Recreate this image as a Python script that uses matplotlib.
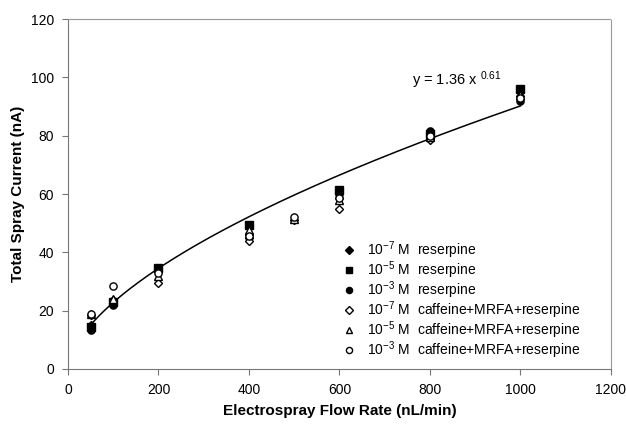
import numpy as np
import matplotlib
matplotlib.use("Agg")
import matplotlib.pyplot as plt

plt.rcParams['font.family'] = ['Liberation Sans', 'DejaVu Sans']
plt.rcParams['mathtext.default'] = 'regular'

# data
x_res = [50, 100, 200, 400, 600, 800, 1000]
res_7 = [15, 22.5, 33.5, 45, 58.5, 79, 95]
res_5 = [14.5, 23, 34.5, 49.5, 61.5, 80.5, 96]
res_3 = [13.5, 22, 33.5, 46, 60, 81.5, 92]

x_mix = [50, 100, 200, 400, 500, 600, 800, 1000]
mix_7 = [18.5, 23.5, 29.5, 44, 51, 55, 78.5, 93.5]
mix_5 = [19, 24, 32, 47.5, 51.5, 58, 79.5, 94]
mix_3 = [19, 28.5, 33, 45.5, 52, 58.5, 80, 93]

# power-law trend line as drawn on the chart (label shows rounded values)
fit_a = 1.46
fit_b = 0.597

fig = plt.figure(figsize=(6.26, 4.25), dpi=100)
ax = fig.add_axes([0.1086, 0.1318, 0.8674, 0.8232])

xf = np.linspace(50, 1000, 200)
ax.plot(xf, fit_a * xf ** fit_b, color="black", linewidth=1.1, zorder=1)

ms = 5.2
ax.plot(x_res, res_7, "D", color="black", ms=ms - 0.8, ls="none", label=r"10$^{-7}$ M  reserpine")
ax.plot(x_res, res_5, "s", color="black", ms=ms, ls="none", label=r"10$^{-5}$ M  reserpine")
ax.plot(x_res, res_3, "o", color="black", ms=ms, ls="none", label=r"10$^{-3}$ M  reserpine")
ax.plot(x_mix, mix_7, "D", mfc="white", mec="black", ms=ms - 0.8, ls="none",
        label=r"10$^{-7}$ M  caffeine+MRFA+reserpine")
ax.plot(x_mix, mix_5, "^", mfc="white", mec="black", ms=ms + 0.5, ls="none",
        label=r"10$^{-5}$ M  caffeine+MRFA+reserpine")
ax.plot(x_mix, mix_3, "o", mfc="white", mec="black", ms=ms, ls="none",
        label=r"10$^{-3}$ M  caffeine+MRFA+reserpine")

ax.text(760, 99, r"y = 1.36 x $^{0.61}$", fontsize=10.5, va="center")

ax.set_xlim(0, 1200)
ax.set_ylim(0, 120)
ax.set_xticks(range(0, 1201, 200))
ax.set_yticks(range(0, 121, 20))
ax.tick_params(direction="out", length=4, color="#777777", labelsize=10, pad=6)

for s in ["left", "bottom"]:
    ax.spines[s].set_color("#777777")
for s in ["top", "right"]:
    ax.spines[s].set_color("#999999")
    ax.spines[s].set_linestyle((0, (2, 1)))

ax.set_xlabel("Electrospray Flow Rate (nL/min)", fontsize=11, fontweight="bold", labelpad=5)
ax.set_ylabel("Total Spray Current (nA)", fontsize=11, fontweight="bold", labelpad=4)

ax.legend(loc="upper left", bbox_to_anchor=(0.49, 0.39), frameon=False, fontsize=10,
          handletextpad=0.7, labelspacing=-0.12, handlelength=1.2, borderpad=0,
          markerscale=0.85)

fig.savefig("out.png", dpi=100)
